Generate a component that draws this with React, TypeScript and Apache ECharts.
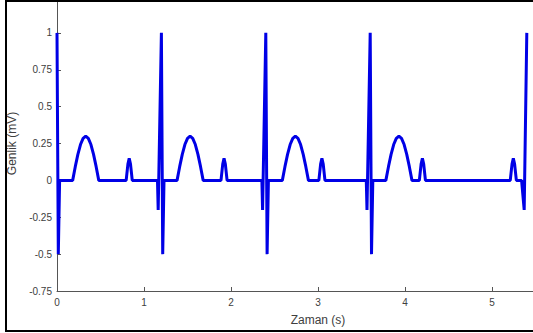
import React, { useEffect, useRef } from "react";
import * as echarts from "echarts";

// ECG trace: [time (s), amplitude (mV)]
const beat1: [number, number][] = [
  [0, 1], [0.015, -0.5], [0.03, 0],
  [0.18, 0], [0.21, 0.093], [0.24, 0.176], [0.27, 0.243], [0.3, 0.285], [0.33, 0.3],
  [0.36, 0.285], [0.39, 0.243], [0.42, 0.176], [0.45, 0.093], [0.48, 0],
  [0.795, 0], [0.815, 0.11], [0.83, 0.15], [0.845, 0.11], [0.865, 0],
  [1.155, 0], [1.163, -0.2],
];
const beat2: [number, number][] = [
  [1.2, 1], [1.215, -0.5], [1.23, 0],
  [1.38, 0], [1.41, 0.093], [1.44, 0.176], [1.47, 0.243], [1.5, 0.285], [1.53, 0.3],
  [1.56, 0.285], [1.59, 0.243], [1.62, 0.176], [1.65, 0.093], [1.68, 0],
  [1.885, 0], [1.905, 0.11], [1.92, 0.15], [1.935, 0.11], [1.955, 0],
  [2.355, 0], [2.363, -0.2],
];
const beat3: [number, number][] = [
  [2.4, 1], [2.415, -0.5], [2.43, 0],
  [2.59, 0], [2.62, 0.093], [2.65, 0.176], [2.68, 0.243], [2.71, 0.285], [2.74, 0.3],
  [2.77, 0.285], [2.8, 0.243], [2.83, 0.176], [2.86, 0.093], [2.89, 0],
  [3.01, 0], [3.03, 0.11], [3.045, 0.15], [3.06, 0.11], [3.08, 0],
  [3.555, 0], [3.563, -0.2],
];
const beat4: [number, number][] = [
  [3.6, 1], [3.615, -0.5], [3.63, 0],
  [3.78, 0], [3.81, 0.093], [3.84, 0.176], [3.87, 0.243], [3.9, 0.285], [3.93, 0.3],
  [3.96, 0.285], [3.99, 0.243], [4.02, 0.176], [4.05, 0.093], [4.08, 0],
  [4.165, 0], [4.185, 0.11], [4.2, 0.15], [4.215, 0.11], [4.235, 0],
  [5.21, 0], [5.23, 0.11], [5.245, 0.15], [5.26, 0.11], [5.28, 0],
  [5.34, 0], [5.37, -0.2], [5.4, 1],
];

const xTicks = [0, 1, 2, 3, 4, 5, 6];
const yTicks = [-0.75, -0.5, -0.25, 0, 0.25, 0.5, 0.75, 1, 1.25];

const xName = "Zaman (s)";
const yName = "Genlik (mV)";

export default function App() {
  const ref = useRef<HTMLDivElement>(null);
  useEffect(() => {
    if (!ref.current) return;
    const chart = echarts.init(ref.current, null, { renderer: "svg" });
    const labelColor = "#404040";
    const axisColor = "#555555";
    const font = "'Liberation Sans', Arial, sans-serif";
    chart.setOption({
      animation: false,
      backgroundColor: "#ffffff",
      grid: {
        left: 57,
        right: 0,
        top: 0,
        bottom: 42,
        containLabel: false,
        outerBoundsMode: "none",
      },
      xAxis: {
        type: "value",
        min: xTicks[0],
        max: xTicks[xTicks.length - 1],
        interval: 1,
        name: xName,
        nameLocation: "middle",
        nameGap: 23,
        nameTextStyle: { fontSize: 12, color: labelColor, fontFamily: font },
        axisLine: { onZero: false, lineStyle: { color: axisColor, width: 1 } },
        axisTick: { inside: true, length: 4, lineStyle: { color: axisColor } },
        axisLabel: {
          color: labelColor,
          fontSize: 10,
          fontFamily: font,
          margin: 6,
          formatter: (v: number) => (v > 5 ? "" : String(v)),
        },
        splitLine: { show: false },
      },
      yAxis: {
        type: "value",
        min: yTicks[0],
        max: yTicks[yTicks.length - 1],
        interval: 0.25,
        name: yName,
        nameLocation: "middle",
        nameGap: 28,
        nameTextStyle: { fontSize: 12, color: labelColor, fontFamily: font },
        axisLine: { show: true, onZero: false, lineStyle: { color: axisColor, width: 1 } },
        axisTick: { show: true, inside: true, length: 4, lineStyle: { color: axisColor } },
        axisLabel: {
          color: labelColor,
          fontSize: 10,
          fontFamily: font,
          margin: 5,
          formatter: (v: number) => (v > 1 ? "" : String(v)),
        },
        splitLine: { show: false },
      },
      series: [
        {
          type: "line",
          data: [...beat1, ...beat2, ...beat3, ...beat4],
          showSymbol: false,
          lineStyle: { color: "#0000e6", width: 3 },
          itemStyle: { color: "#0000e6" },
        },
      ],
      graphic: [
        {
          type: "rect",
          z: 100,
          shape: { x: 6, y: 5, width: 600, height: 330 },
          style: { fill: "none", stroke: "#000000", lineWidth: 2 },
        },
      ],
    });
    return () => chart.dispose();
  }, []);
  return (
    <div
      style={{
        position: "absolute",
        left: 0,
        top: 0,
        width: 533,
        height: 333,
        overflow: "hidden",
        background: "#fff",
      }}
    >
      <div
        ref={ref}
        style={{ position: "absolute", left: 0, top: -4, width: 579, height: 337 }}
      />
    </div>
  );
}
